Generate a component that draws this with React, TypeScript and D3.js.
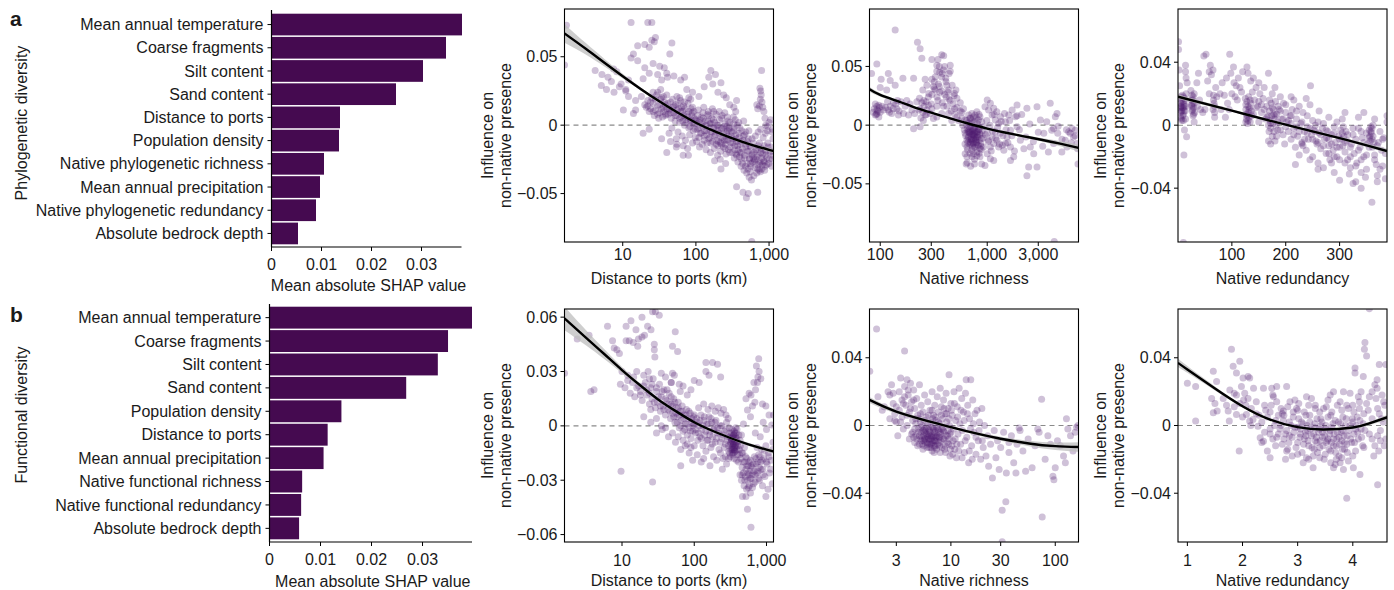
import React from "react";
import * as d3 from "d3";

// ---------- Bar data ----------
const phyloCats = [
  "Mean annual temperature", "Coarse fragments", "Silt content", "Sand content",
  "Distance to ports", "Population density", "Native phylogenetic richness",
  "Mean annual precipitation", "Native phylogenetic redundancy", "Absolute bedrock depth",
];
const phyloVals = [0.0381, 0.0349, 0.0303, 0.0249, 0.0137, 0.0135, 0.0105, 0.0097, 0.0089, 0.0053];
const funcCats = [
  "Mean annual temperature", "Coarse fragments", "Silt content", "Sand content",
  "Population density", "Distance to ports", "Mean annual precipitation",
  "Native functional richness", "Native functional redundancy", "Absolute bedrock depth",
];
const funcVals = [0.0397, 0.0350, 0.0330, 0.0268, 0.0141, 0.0114, 0.0106, 0.0064, 0.0062, 0.0058];
const barTicks = [0, 0.01, 0.02, 0.03];
const barTickLabels = ["0", "0.01", "0.02", "0.03"];

// ---------- Scatter data ----------
type P = [number, number];
const a1Points: P[] = [
  [1.7,0.073],[1.6,0.044],[13,0.075],[22,0.075],[25,0.075],[25,0.062],[27,0.061],[28,0.064],[16,0.058],[20,0.059],[23,0.057],[47,0.060],[14,0.052],[13,0.049],[16,0.047],[44,0.052],[26,0.045],[20,0.042],[23,0.038],[32,0.043],[37,0.042],[40,0.038],[41,0.035],[50,0.036],[62,0.033],[70,0.035],[30,0.037],[34,0.033],[19,0.034],[4.2,0.040],[5.2,0.037],[6.3,0.035],[7.5,0.041],[8.3,0.039],[7,0.032],[5.1,0.029],[6,0.026],[7.6,0.024],[9,0.028],[11,0.026],[12,0.021],[10.2,0.011],[15,0.018],[18,0.021],[15,0.011],[14,0.0085],[9.5,0.030],[12,0.033],[11,0.025],
  [790,0.040],[750,0.027],[770,0.025],[780,0.022],[760,0.019],[800,0.017],[740,0.014],[820,0.013],[700,0.012],[680,0.015],[850,0.010],[880,0.005],[900,0.0],[950,-0.004],[1000,0.002],[1100,-0.005],[150,0.035],[170,0.030],[185,0.037],[160,0.040],[130,0.028],[220,0.031],[200,0.024],[240,0.022],[260,0.020],[290,0.015],[330,0.013],[350,0.010],[360,0.018],[110,0.021],[90,0.024],[80,0.020],[75,0.026],
  [20,0.015],[22,0.018],[24,0.012],[26,0.016],[28,0.011],[30,0.014],[32,0.009],[34,0.012],[36,0.010],[38,0.015],[25,0.020],[29,0.022],[33,0.019],[37,0.017],[39,0.008],[27,0.007],[31,0.005],[35,0.006],[23,0.010],[40,0.012],[21,0.013],[30,0.024],[36,0.021],
  [42,0.008],[44,0.011],[46,0.005],[48,0.013],[50,0.009],[52,0.003],[55,0.007],[58,0.012],[60,0.002],[63,0.006],[66,0.010],[70,0.000],[73,0.004],[76,0.008],[80,-0.002],[84,0.003],[88,0.007],[92,-0.004],[96,0.001],[45,0.017],[53,0.015],[62,0.018],[68,0.014],[78,0.016],[86,0.012],[94,0.010],[47,-0.002],[57,-0.005],[65,-0.008],[72,-0.011],[82,-0.007],[90,-0.013],[43,-0.006],[54,-0.010],[98,-0.009],[60,0.020],[85,0.019],[67,-0.015],[77,-0.017],[55,-0.014],
  [100,0.004],[105,-0.003],[110,0.002],[115,-0.006],[120,0.006],[125,-0.001],[130,-0.008],[135,0.003],[140,-0.004],[145,0.008],[150,-0.010],[155,0.001],[160,-0.005],[165,0.005],[170,-0.012],[175,-0.002],[180,0.002],[185,-0.007],[190,-0.014],[195,0.000],[200,-0.004],[210,0.004],[220,-0.009],[230,-0.002],[240,-0.006],[250,0.001],[260,-0.011],[270,-0.004],[280,-0.008],[290,0.002],[300,-0.013],[108,0.011],[128,0.013],[148,0.010],[168,0.012],[188,0.008],[208,0.010],[228,0.007],[248,0.009],[268,0.006],[112,-0.016],[138,-0.018],[158,-0.020],[178,-0.017],[198,-0.022],[218,-0.019],[238,-0.016],[258,-0.021],[278,-0.018],[102,-0.012],[122,-0.014],[142,-0.013],[205,-0.012],[225,-0.014],[245,-0.011],[265,-0.001],[285,-0.003],[215,-0.025],[255,-0.028],[180,-0.026],
  [310,-0.005],[320,-0.010],[330,-0.002],[340,-0.015],[350,-0.007],[360,-0.012],[370,0.000],[380,-0.018],[390,-0.009],[400,-0.014],[420,-0.020],[440,-0.011],[460,-0.024],[480,-0.016],[500,-0.028],[520,-0.019],[540,-0.025],[560,-0.030],[580,-0.022],[600,-0.027],[315,-0.020],[335,-0.024],[355,-0.021],[375,-0.027],[395,-0.023],[415,-0.030],[435,-0.028],[455,-0.033],[475,-0.030],[495,-0.035],[515,-0.032],[535,-0.038],[555,-0.034],[345,0.004],[385,0.002],[425,-0.004],[465,-0.007],[505,-0.012],[545,-0.015],[585,-0.010],[325,0.006],[450,0.003],[530,-0.004],
  [620,-0.020],[640,-0.031],[660,-0.025],[680,-0.018],[700,-0.029],[720,-0.022],[740,-0.013],[760,-0.027],[780,-0.017],[800,-0.032],[820,-0.021],[840,-0.026],[860,-0.015],[880,-0.030],[900,-0.019],[930,-0.024],[960,-0.013],[990,-0.028],[1020,-0.020],[1060,-0.016],[1100,-0.025],[1130,-0.010],[650,-0.008],[710,-0.005],[770,-0.003],[830,-0.009],[890,-0.006],[950,-0.001],[1050,0.004],[1120,-0.003],[680,-0.035],[620,-0.037],[730,-0.033],
  [220,-0.032],[360,-0.045],[440,-0.049],[520,-0.050],[490,-0.053],[575,-0.040],[700,-0.049],[580,-0.085],[19,-0.006],[23,-0.003],[34,-0.010],[54,-0.016],[67,-0.022],[79,-0.022],[40,-0.020],[45,-0.012],
  [22,0.014],[24,0.017],[26,0.010],[28,0.019],[30,0.008],[32,0.015],[34,0.020],[36,0.013],[38,0.007],[41,0.016],[43,0.012],[45,0.009],[48,0.019],[50,0.014],[52,0.007],[55,0.011],[57,0.016],[60,0.005],[62,0.010],[64,0.013],[66,0.003],[68,0.007],[71,0.012],[74,0.002],[77,0.006],[80,0.010],[83,-0.001],[86,0.004],[89,0.009],[92,0.001],[95,0.005],[98,-0.003],[102,0.003],[106,0.007],[110,-0.002],[114,0.004],[118,-0.006],[122,0.001],[126,0.005],[131,-0.004],[136,0.000],[141,-0.007],[146,0.003],[151,-0.002],[156,-0.009],[161,0.001],[167,-0.005],[173,0.004],[179,-0.008],[186,-0.002],[193,-0.011],[200,0.000],[208,-0.006],[216,-0.013],[224,-0.003],[233,-0.009],[242,-0.001],[252,-0.014],[262,-0.006],[272,-0.011],[283,-0.002],[294,-0.016],[305,-0.008],[318,-0.013],[330,-0.004],[343,-0.018],[356,-0.010],[370,-0.015],[385,-0.006],[400,-0.020],[415,-0.012],[430,-0.017],[447,-0.008],[465,-0.022],[483,-0.014],[502,-0.019],[522,-0.010],[542,-0.024],[563,-0.016],[585,-0.021],[608,-0.013],[632,-0.026],[657,-0.018],[683,-0.023],[710,-0.015],[738,-0.028],[767,-0.020],[797,-0.024],[828,-0.018],[860,-0.027],[895,-0.022],[930,-0.029],[968,-0.016],[1005,-0.025],[1045,-0.019],[1085,-0.030],[1130,-0.022],[560,-0.028],[620,-0.025],[700,-0.032],[760,-0.034],[810,-0.029],[870,-0.033],[420,-0.025],[360,-0.022],[290,-0.020],[250,-0.017],[200,-0.015],[160,-0.013],[130,-0.011],[110,-0.009],[125,0.009],[150,0.007],[175,0.010],[225,0.005],[275,0.003],[330,0.001],[400,-0.002],[480,-0.005],[90,0.013],[70,0.017],[55,0.021],[40,0.022],[33,0.026],[26,0.024],
];
const a2Points: P[] = [
  [83,0.044],[93,0.052],[102,0.039],[100,0.032],[115,0.030],[119,0.044],[124,0.038],[138,0.034],[138,0.081],[163,0.040],[205,0.040],[184,0.0086],[205,-0.003],[93,0.016],[93,0.013],[93,0.010],[97,0.017],[90,0.0086],[88,0.014],[100,0.011],[97,0.007],[104,0.016],[107,0.013],[117,0.020],[119,0.013],[124,0.016],[128,0.010],[133,0.019],[143,0.014],[148,0.0086],[156,0.020],[171,0.016],[177,0.021],[198,0.013],[145,0.021],
  [236,0.014],[245,0.019],[250,0.011],[258,0.016],[263,0.0086],[268,0.020],[273,0.013],[282,0.017],[253,0.004],[236,-0.0014],[293,0.010],[304,0.014],[314,0.0057],[233,0.023],[282,0.024],[250,0.030],
  [223,0.0706],[236,0.065],[245,0.057],[304,0.056],[346,0.056],[376,0.060],[392,0.059],[338,0.051],[357,0.050],[338,0.046],[390,0.047],[451,0.051],[451,0.046],[327,0.041],[376,0.041],[304,0.039],[263,0.039],[273,0.034],[314,0.033],[357,0.033],[419,0.034],[327,0.030],[376,0.029],[435,0.030],[495,0.027],[414,0.024],[451,0.021],[521,0.023],[560,0.019],[346,0.021],[304,0.026],[390,0.016],[495,0.014],[580,0.011],[338,0.016],[435,0.010],[521,0.007],[376,0.010],[338,0.007],[466,0.004],[412,0.037],[320,0.037],
  [622,0.0043],[646,0],[670,-0.0043],[694,-0.007],[718,0.0014],[743,-0.0029],[770,-0.0057],[800,-0.010],[826,-0.0014],[855,-0.007],[888,-0.0114],[670,-0.010],[694,-0.0143],[718,-0.0129],[743,-0.0157],[770,-0.0186],[800,-0.0143],[826,-0.0171],[855,-0.020],[646,-0.0129],[622,-0.007],[646,-0.0186],[622,-0.0243],[646,-0.027],[636,-0.033],[718,-0.0214],[743,-0.0243],[800,-0.0229],[855,-0.027],[888,-0.033],[923,-0.0186],[770,0.0086],[718,0.010],[694,0.0057],[800,0.0114],[855,0.0071],[888,0.0029],[930,-0.0014],[670,0.0086],[826,0.0043],[730,-0.0077],[682,-0.0014],[785,-0.0123],[840,-0.0037],[706,-0.010],[755,-0.0066],[812,-0.0057],[658,-0.0057],[870,-0.0157],
  [700,-0.005],[760,-0.009],[690,-0.012],[735,-0.004],[780,-0.011],[720,-0.008],[765,-0.002],[705,-0.016],[750,-0.012],[680,-0.006],[810,-0.008],[725,-0.018],[790,-0.015],[660,-0.015],[745,-0.009],
  [953,0.0157],[1000,0.0214],[1030,0.0129],[1070,0.0186],[1110,0.0086],[1150,0.0143],[1190,0.0043],[1230,0.0114],[1280,0.0014],[1330,0.0071],[1000,-0.007],[1030,-0.0129],[1070,-0.0186],[1110,-0.010],[1150,-0.0157],[1190,-0.0057],[1230,-0.0129],[1280,-0.0186],[1330,-0.007],[1380,-0.0171],[1430,-0.0214],[1480,-0.0157],[1530,-0.010],[1650,-0.030],[1770,-0.027],[1590,0.0086],[1710,0.0129],[1900,0.0171],[1480,0.0029],[1840,0.0071],[1650,-0.0186],[1000,-0.0243],[1150,-0.030],[953,-0.0343],[1070,-0.0286],
  [2040,-0.0129],[2200,-0.020],[2350,0.0143],[2530,-0.0186],[2720,-0.0243],[2350,-0.043],[2440,-0.0357],[2920,-0.0357],[2920,0.0157],[3140,0.0043],[3380,-0.007],[3600,0.0029],[3880,0.0186],[3730,-0.0229],[4170,-0.0029],[4330,0.0071],[4490,0.010],[4560,-0.007],[4170,-0.0157],[4980,-0.0229],[5360,-0.0129],[5560,-0.0186],[5970,-0.007],[6200,-0.0029],[6400,-0.010],[6650,-0.0043],[6900,-0.0157],[7050,-0.033],[5770,-0.0057],[4230,-0.099],[4010,-0.0043],[1650,-0.0043],[1900,-0.0014],
  [610,-0.004],[630,-0.009],[650,-0.003],[660,-0.011],[675,-0.006],[685,-0.016],[700,-0.001],[710,-0.012],[725,-0.005],[735,-0.015],[748,-0.008],[758,-0.019],[770,-0.003],[782,-0.013],[795,-0.006],[805,-0.017],[818,-0.010],[830,-0.004],[845,-0.013],[860,-0.008],[875,-0.018],[895,-0.005],[915,-0.011],[640,0.004],[665,0.002],[690,0.006],[715,0.004],[740,0.007],[765,0.003],[790,0.006],[815,0.001],[840,0.009],[620,-0.016],[655,-0.021],[690,-0.024],[720,-0.027],[760,-0.029],[800,-0.026],[840,-0.024],[880,-0.021],[650,-0.032],[700,-0.035],[760,-0.033],
  [560,0.012],[580,0.006],[600,0.014],[590,0.000],[540,0.004],[520,0.015],[500,0.009],[480,0.018],[460,0.012],[440,0.022],[420,0.016],[400,0.026],[380,0.019],[360,0.028],[340,0.024],[320,0.031],[300,0.018],[285,0.027],[270,0.009],[255,0.021],[240,0.006],[230,0.013],[350,0.035],[380,0.044],[410,0.040],[430,0.028],[470,0.034],[490,0.025],[510,0.030],[440,0.044],[400,0.050],[360,0.045],
  [960,-0.008],[990,0.004],[1020,-0.014],[1060,0.000],[1090,-0.022],[1120,-0.005],[1160,0.009],[1200,-0.011],[1250,-0.002],[1300,-0.016],[1350,0.003],[1400,-0.009],[1450,0.010],[1500,-0.004],[1560,-0.015],[1620,0.004],[1700,-0.009],[1800,-0.022],[1900,0.008],[2000,-0.004],[2100,0.009],[2300,-0.010],[2500,0.001],[2700,-0.014],[3000,-0.006],[3300,-0.018],[5000,-0.012],[5500,-0.004],[6100,-0.015],[6600,-0.009],[7000,-0.020],[4600,-0.001],
  [90,0.018],[95,0.012],[92,0.009],[98,0.015],[86,0.011],[112,0.015],[122,0.011],[132,0.014],[140,0.018],[150,0.012],[165,0.010],[190,0.018],[210,0.010],[220,0.020],
];
const a3Points: P[] = [
  [5,0.018],[5,0.014],[5,0.011],[5,0.008],[5,0.005],[6,0.016],[6,0.012],[7,0.009],[7,0.003],[8,0.019],[10,0.015],[10,0.011],[10,0.007],[11,0.013],[12,0.017],[13,0.009],[14,0.004],[15,0.012],[15,0.020],[16,-0.0074],[11,-0.019],[10,0.003],[12,-0.003],[1,0.053],[1,0.048],[2,0.035],[3,0.025],[14,0.038],[14,0.034],[15,0.030],[17,0.027],
  [25,0.016],[26,0.012],[26,0.009],[27,0.014],[28,0.006],[28,0.018],[29,0.011],[30,0.020],[24,0.022],[31,0.008],[35,0.027],[38,0.033],[36,0.012],[40,0.016],[42,0.010],[30,0.002],
  [48,0.044],[52,0.045],[55,0.028],[58,0.034],[60,0.038],[62,0.032],[65,0.035],[66,0.016],[68,0.012],[68,0.008],[70,0.024],[72,0.018],[78,0.020],[82,0.027],[86,0.019],[90,0.030],[92,0.014],[95,0.010],[96,0.045],[98,0.033],[100,0.020],[103,0.037],[104,0.027],[106,0.018],[108,0.025],[110,0.016],[112,0.030],[115,0.024],[118,0.021],[120,0.034],[50,0.010],[80,0.010],[88,0.005],[58,0.020],[46,0.008],
  [125,0.017],[126,0.013],[126,0.010],[127,0.007],[127,0.004],[128,0.015],[129,0.001],[130,0.012],[130,0.008],[131,0.018],[132,0.005],[133,0.011],[134,0.002],[135,0.014],[136,0.009],[137,0.006],[128,0.037],[130,0.033],[135,0.028],[140,0.030],[138,0.021],[142,0.016],[145,0.024],[148,0.012],[150,0.027],[152,0.020],[155,0.008],[158,0.017],[160,0.024],[162,0.004],[150,0.002],
  [165,0.012],[167,0.006],[168,0.000],[169,-0.004],[170,0.009],[171,0.003],[172,-0.002],[173,0.014],[174,0.006],[175,-0.007],[176,0.001],[177,0.010],[178,-0.004],[179,0.004],[180,-0.010],[181,0.015],[182,0.000],[183,0.007],[185,-0.003],[186,0.012],[168,0.033],[175,0.020],[180,0.024],[190,0.018],[188,0.010],[192,0.004],[195,-0.006],[196,0.014],[198,-0.012],[200,0.008],[168,-0.010],[172,-0.012],
  [202,0.002],[205,-0.004],[208,0.006],[210,-0.009],[212,0.010],[215,-0.002],[218,-0.014],[220,0.004],[222,-0.007],[225,-0.019],[228,0.001],[230,-0.011],[232,0.008],[235,-0.004],[238,-0.016],[240,-0.001],[242,-0.009],[245,0.013],[248,-0.006],[250,-0.020],[252,-0.003],[255,0.000],[258,-0.012],[260,-0.024],[262,-0.005],[265,-0.015],[268,-0.002],[270,-0.027],[272,-0.009],[275,-0.018],[278,-0.004],[280,-0.013],[282,-0.022],[285,-0.006],[288,-0.016],[290,-0.001],[292,-0.011],[295,-0.020],[298,-0.007],[300,-0.014],[246,0.025],[215,0.016],[225,0.012],[238,0.017],[262,0.009],[280,0.005],[295,0.002],[218,-0.025],[245,-0.022],[260,-0.028],[285,-0.024],[210,0.018],[232,-0.013],[256,-0.010],[276,-0.008],
  [302,-0.003],[304,-0.009],[305,-0.005],[306,-0.013],[307,-0.001],[308,-0.007],[310,-0.017],[312,-0.004],[314,-0.010],[315,-0.022],[318,-0.031],[320,-0.027],[322,-0.012],[325,-0.006],[327,-0.018],[330,-0.036],[332,-0.024],[335,-0.002],[338,-0.014],[340,-0.030],[342,-0.008],[345,-0.020],[348,-0.033],[350,-0.005],[352,-0.012],[355,-0.003],[356,-0.007],[357,-0.010],[358,-0.001],[359,-0.005],[360,-0.009],[361,-0.014],[362,0.000],[360,-0.049],[365,-0.019],[368,-0.025],[370,-0.032],[372,-0.011],[375,-0.004],[378,-0.016],[380,-0.026],[382,-0.008],[385,-0.034],[388,0.006],[388,0.002],[10,-0.0745],[310,0.008],[305,0.004],[335,0.005],[345,0.008],[365,0.004],[290,-0.030],[300,-0.035],[325,-0.037],[340,-0.040],
  [180,0.006],[185,0.002],[190,-0.003],[195,0.004],[200,-0.001],[205,0.003],[210,0.001],[215,-0.006],[220,-0.001],[225,-0.004],[230,0.002],[235,-0.009],[240,-0.005],[245,-0.002],[250,-0.009],[255,-0.004],[260,-0.011],[265,-0.006],[270,-0.013],[275,-0.003],[280,-0.009],[285,-0.012],[290,-0.005],[295,-0.014],[300,-0.009],[310,-0.011],[315,-0.006],[320,-0.014],[325,-0.002],[330,-0.009],[335,-0.016],[340,-0.004],[345,-0.011],[350,-0.019],[355,-0.008],[358,-0.004],[360,-0.002],[362,-0.007],[364,-0.011],[355,-0.014],[365,-0.022],[370,-0.013],[375,-0.028],[380,-0.009],[385,-0.018],[130,0.003],[132,0.010],[134,0.016],[128,0.006],[126,0.002],[140,0.007],[145,0.011],[150,0.015],[155,0.013],[160,0.010],[165,0.005],[170,0.016],[175,0.011],[172,0.001],[178,0.007],[183,-0.007],[190,0.009],[200,0.013],[210,0.006],[220,0.009],[230,-0.012],[240,0.006],[250,0.003],[260,0.002],[270,0.001],[280,-0.018],[290,-0.020],[300,-0.022],[310,-0.024],[320,-0.020],[330,-0.026],[340,-0.022],[350,-0.028],[370,-0.036],[5,0.012],[6,0.009],[7,0.015],[8,0.011],[9,0.006],[10,0.018],[11,0.009],[12,0.012],[13,0.016],[6,0.004],[25,0.013],[27,0.010],[28,0.016],[29,0.007],[26,0.019],[30,0.014],[65,0.010],[67,0.014],[68,0.005],[66,0.019],
];
const b1Points: P[] = [
  [1.6,0.029],[2.4,0.048],[3.5,0.050],[3.7,0.019],[4.1,0.020],[6.3,0.055],[7.4,0.047],[7.8,0.043],[8.5,0.042],[9.2,0.040],[11.4,0.047],[12.6,0.047],[14.3,0.046],[16.9,0.048],[18.9,0.049],[20.5,0.050],[26.5,0.063],[29,0.063],[32.8,0.061],[13.3,0.058],[18.9,0.060],[25.2,0.053],[22.6,0.055],[54.6,0.052],[50,0.044],[28,0.045],[28,0.042],[28.5,0.038],[11.4,0.055],[15.6,0.053],[16.5,0.044],[58.8,0.041],
  [10,0.030],[9.5,0.023],[11,0.021],[12,0.025],[13,0.018],[14.5,0.027],[16,0.030],[15,0.016],[17,0.022],[18,0.019],[20,0.028],[19,0.014],[21,0.024],[22,0.017],[23,0.030],[24,0.012],[25,0.021],[26,0.015],[27,0.026],[29,0.010],[30,0.019],[31,0.013],[33,0.023],[34,0.008],[35,0.016],[37,0.011],[38,0.020],[40,0.006],[42,0.014],[43,0.009],[45,0.018],[47,0.004],[48,0.012],[50,0.007],[52,0.015],[54,0.002],[56,0.010],[58,0.005],[60,0.013],[62,-0.001],[64,0.008],[66,0.003],[68,0.011],[70,-0.003],[72,0.006],[75,0.001],[78,0.009],[80,-0.005],[82,0.004],[85,-0.001],[88,0.007],[90,-0.007],[92,0.002],[95,-0.003],[98,0.005],[20,0.005],[25,0.002],[30,-0.004],[36,-0.002],[44,-0.006],[55,-0.009],[65,-0.013],[75,-0.011],[85,-0.015],[95,-0.019],[40,0.027],[35,0.029],[48,0.024],[53,0.028],[70,0.022],[64,0.019],[80,0.017],[90,0.020],[24,0.026],
  [100,0.001],[104,-0.004],[108,0.004],[112,-0.008],[116,0.000],[120,-0.006],[124,0.006],[128,-0.002],[132,-0.011],[136,0.003],[140,-0.005],[145,-0.014],[150,0.001],[155,-0.008],[160,0.005],[165,-0.003],[170,-0.012],[175,0.002],[180,-0.006],[185,-0.017],[190,-0.001],[195,-0.009],[200,0.003],[210,-0.004],[220,-0.013],[230,0.000],[240,-0.007],[250,-0.018],[260,-0.003],[270,-0.010],[280,0.002],[290,-0.006],[300,-0.014],[310,-0.004],[320,-0.009],[330,-0.012],[340,-0.006],[350,-0.015],[360,-0.008],[370,-0.011],[380,-0.004],[390,-0.013],[400,-0.009],[305,-0.001],[315,-0.017],[325,-0.007],[335,-0.002],[345,-0.010],[355,-0.005],[365,-0.014],[375,-0.001],[385,-0.007],[395,-0.016],[115,0.010],[135,0.012],[155,0.009],[175,0.011],[195,0.008],[215,0.010],[235,0.007],[255,0.009],[275,0.006],[295,0.004],[145,0.035],[179,0.035],[210,0.034],[145,0.030],[160,0.028],[232,0.027],[100,0.025],[117,0.024],[50,0.029],[48,0.024],[62,0.023],[125,-0.020],[165,-0.022],[205,-0.019],[245,-0.024],[280,-0.021],[110,-0.016],[135,-0.018],[230,-0.015],[270,-0.017],
  [330,-0.008],[340,-0.011],[350,-0.005],[360,-0.013],[370,-0.007],[345,-0.009],[355,-0.012],[365,-0.004],[335,-0.015],[375,-0.010],
  [410,-0.020],[420,-0.013],[430,-0.027],[440,-0.018],[450,-0.030],[460,-0.023],[470,-0.015],[480,-0.026],[490,-0.033],[500,-0.020],[510,-0.028],[520,-0.024],[530,-0.035],[540,-0.018],[550,-0.030],[560,-0.022],[570,-0.027],[580,-0.033],[590,-0.025],[600,-0.019],[620,-0.029],[640,-0.023],[660,-0.032],[680,-0.017],[700,-0.027],[720,-0.021],[740,-0.012],[760,-0.025],[780,-0.016],[800,-0.030],[830,-0.020],[860,-0.013],[890,-0.024],[920,-0.018],[950,-0.028],[980,-0.011],[1020,-0.021],[1060,-0.015],[1100,-0.026],[1150,-0.019],[1200,-0.032],[1230,-0.009],[465,-0.039],[520,-0.039],[545,-0.046],[610,-0.056],[880,-0.033],[980,-0.039],[1050,-0.035],[9.7,-0.025],[26.5,-0.031],[65,-0.022],
  [780,0.037],[725,0.033],[790,0.030],[835,0.026],[670,0.024],[705,0.020],[610,0.017],[640,0.011],[545,0.0087],[880,0.012],[980,0.011],[1085,0.006],[1180,0.0005],[520,0.015],[575,0.018],[760,0.027],[750,0.024],[690,0.013],[600,0.005],[900,0.002],[1000,-0.002],[1250,0.006],[450,-0.005],[480,0.001],[430,-0.008],[700,-0.004],[820,-0.006],
  [20,0.022],[22,0.020],[24,0.018],[26,0.023],[28,0.013],[30,0.021],[32,0.016],[34,0.011],[36,0.019],[38,0.009],[40,0.015],[42,0.020],[44,0.012],[46,0.008],[48,0.016],[50,0.011],[52,0.005],[54,0.013],[56,0.007],[58,0.002],[60,0.010],[62,0.006],[65,0.000],[68,0.008],[71,0.004],[74,-0.002],[77,0.006],[80,0.001],[84,0.008],[88,-0.003],[92,0.004],[96,0.000],[100,0.006],[105,-0.002],[110,0.002],[115,-0.004],[120,0.003],[126,-0.007],[132,0.000],[138,0.005],[144,-0.003],[150,-0.008],[157,0.001],[164,-0.005],[171,0.004],[178,-0.010],[186,-0.002],[194,0.002],[202,-0.007],[211,-0.001],[220,-0.004],[230,-0.009],[240,0.000],[250,-0.005],[261,-0.012],[273,-0.002],[285,-0.008],[298,-0.011],[310,-0.006],[318,-0.010],[326,-0.004],[334,-0.013],[342,-0.007],[350,-0.010],[358,-0.003],[366,-0.012],[374,-0.006],[382,-0.009],[390,-0.002],[398,-0.011],[328,-0.008],[346,-0.013],[362,-0.009],[340,-0.016],[356,-0.018],[320,-0.013],[310,-0.015],[300,-0.018],[370,-0.014],[385,-0.019],[415,-0.005],[425,-0.016],[435,-0.011],[455,-0.015],[475,-0.020],[495,-0.012],[515,-0.017],[535,-0.022],[555,-0.026],[575,-0.020],[595,-0.029],[615,-0.022],[635,-0.027],[655,-0.021],[675,-0.025],[695,-0.031],[715,-0.018],[735,-0.026],[755,-0.020],[775,-0.029],[795,-0.023],[815,-0.017],[840,-0.024],[870,-0.019],[900,-0.027],[940,-0.014],[1000,-0.020],[1080,-0.017],[1140,-0.024],[1220,-0.013],[560,-0.034],[600,-0.037],[640,-0.034],[500,-0.030],[460,-0.027],[30,0.004],[35,0.000],[40,-0.001],[50,-0.004],[60,-0.006],[70,-0.008],[80,-0.010],[90,-0.012],[100,-0.011],[25,0.009],[18,0.017],[16,0.021],[14,0.024],[12,0.028],
];
const b2Points: P[] = [
  [1.67,0.032],[1.94,0.057],[3.6,0.044],[2.0,0.017],[2.2,0.009],[2.3,0.011],[2.5,0.020],[2.6,0.018],[2.7,0.024],[2.8,0.013],[2.9,0.007],[2.9,0.003],[3.0,0.011],[3.0,0.002],[3.1,-0.006],[3.2,0.020],[3.3,0.028],[3.4,0.015],[3.4,0.005],[3.5,-0.002],[3.6,0.023],[3.7,0.012],[3.8,0.027],[3.8,0.000],[3.9,0.018],[4.0,-0.008],[4.0,0.008],[4.1,0.025],[4.2,0.014],[4.3,0.003],[4.3,-0.004],[4.4,0.021],[4.5,0.010],[4.5,-0.010],[4.6,0.001],[4.6,-0.006],[4.7,0.016],[4.8,0.006],[4.8,-0.012],[4.9,-0.002],[5.0,0.024],[5.0,0.004],[5.1,-0.008],[5.2,0.012],[5.2,-0.004],[5.3,0.000],[5.4,-0.014],[5.4,0.008],[5.5,-0.006],[5.6,0.018],[5.6,-0.002],[5.7,-0.010],[5.8,0.005],[5.8,-0.005],[5.9,-0.013],[6.0,0.001],[6.0,0.014],[6.1,-0.008],[6.2,-0.003],[6.3,0.009],[6.3,-0.011],[6.4,0.002],[6.5,-0.006],[6.6,0.020],[6.6,-0.015],[6.7,-0.001],[6.8,0.006],[6.9,-0.009],[7.0,0.012],[7.0,-0.004],[7.1,-0.012],[7.2,0.003],[7.3,-0.007],[7.4,0.017],[7.5,-0.002],[7.6,0.008],[7.7,-0.010],[7.8,0.001],[7.9,0.022],[8.0,-0.005],[8.1,0.011],[8.2,-0.013],[8.3,0.004],[8.4,-0.001],[8.5,0.015],[8.6,-0.008],[8.8,0.007],[8.9,-0.016],[9.0,0.019],[9.1,0.002],[9.3,-0.006],[9.4,0.010],[9.5,-0.011],[9.6,0.030],[9.7,0.000],[9.8,-0.018],
  [10,0.013],[10,-0.004],[10.3,0.006],[10.5,-0.009],[10.7,0.020],[10.9,-0.014],[11.1,0.003],[11.3,-0.019],[11.5,0.011],[11.7,-0.005],[12.0,0.022],[12.2,0.001],[12.4,-0.011],[12.7,0.016],[12.9,-0.003],[13.2,0.008],[13.5,-0.016],[13.8,0.019],[14.0,0.027],[14.2,-0.007],[14.5,0.012],[14.8,-0.022],[15.1,0.004],[15.5,0.027],[15.8,-0.012],[16.2,0.015],[16.6,-0.004],[17.0,0.007],[17.4,-0.017],[17.8,0.009],[18.3,-0.009],[18.8,0.002],[19.3,-0.020],[19.8,0.010],[20.4,-0.013],[21,0.000],[21.7,-0.018],[22.5,-0.006],[23,-0.024],[24,-0.011],[25,-0.031],[26,-0.003],[27,-0.019],[28,-0.009],[29,-0.026],[31,-0.050],[33.6,-0.045],[31,-0.0686],[30,-0.013],[32,-0.004],[34,-0.028],[36,-0.016],[38,-0.006],[40,-0.022],[43,-0.011],[46,-0.003],[49,-0.015],[52,-0.027],[55,-0.008],[60,-0.025],[64,-0.012],[68,-0.002],[74,0.0155],[75,-0.054],[80,-0.020],[85,-0.006],[90,-0.011],[97,-0.032],[100,-0.025],[105,-0.009],[112,-0.012],[120,-0.018],[125,-0.022],[128,0.004],[132,-0.002],[140,-0.006],[148,-0.015],[155,-0.004],[160,-0.001],[165,0.000],[45,-0.0015],[42,-0.028],[36,-0.010],[70,-0.004],[95,-0.030],
  [5.5,-0.009],[6,-0.007],[6.5,-0.011],[7,-0.009],[5,-0.006],[6.2,-0.013],[5.7,-0.003],[6.8,-0.005],[7.3,-0.014],[4.4,-0.007],[5.9,-0.010],[6.4,-0.008],[6.9,-0.012],[5.3,-0.011],[7.8,-0.007],[8.5,-0.003],[5.1,0.002],[6.7,0.004],[5.6,-0.008],[6.1,-0.005],[6.6,-0.009],[5.2,-0.009],[6.3,-0.006],[7.1,-0.007],
  [4.2,-0.005],[4.5,-0.002],[4.7,-0.008],[4.9,-0.004],[5.0,-0.011],[5.2,-0.001],[5.3,-0.007],[5.4,-0.003],[5.5,-0.012],[5.6,-0.004],[5.7,-0.008],[5.8,-0.001],[5.9,-0.006],[6.0,-0.011],[6.1,-0.002],[6.2,-0.009],[6.3,-0.004],[6.4,-0.013],[6.5,-0.001],[6.6,-0.007],[6.7,-0.010],[6.8,-0.002],[6.9,-0.006],[7.0,-0.013],[7.1,-0.003],[7.2,-0.009],[7.3,-0.001],[7.4,-0.006],[7.5,-0.011],[7.6,-0.003],[7.7,-0.007],[7.8,-0.012],[7.9,-0.004],[8.0,-0.009],[8.2,-0.002],[8.4,-0.008],[8.6,-0.004],[8.8,-0.012],[9.0,-0.006],[9.2,-0.010],[9.4,-0.003],[9.6,-0.008],[9.8,-0.005],[10.2,-0.012],[10.6,-0.002],[11,-0.008],[11.4,-0.011],[4.6,0.004],[5.1,0.007],[5.6,0.003],[6.1,0.006],[6.6,0.009],[7.1,0.005],[7.6,0.002],[8.1,0.006],[8.6,0.010],[9.1,0.007],[9.6,0.004],[10.1,0.009],[10.8,0.013],[11.6,0.005],[12.5,0.009],[13.4,0.003],[14.4,0.007],[15.4,-0.002],[16.4,0.001],[17.4,-0.007],[18.6,-0.003],[20,-0.009],[3.2,0.009],[3.5,0.013],[3.8,0.006],[4.1,0.010],[4.4,0.015],[3.3,0.002],[3.6,0.017],[2.6,0.004],[2.8,0.019],[3.9,0.021],[12.8,-0.019],[13.7,-0.009],[15,-0.015],[16,-0.020],[11.9,-0.015],[10.4,-0.017],[9.9,-0.014],[8.7,-0.014],[7.9,-0.016],[6.9,-0.016],
];
const b3Points: P[] = [
  [1.0,0.025],[1.15,0.023],[1.15,0.0026],[1.47,0.032],[1.53,0.026],[1.44,0.016],[1.5,0.013],[1.47,0.0075],[1.54,0.0085],[1.8,0.045],[1.83,0.035],[1.89,0.031],[1.95,0.038],[1.98,0.023],[1.77,0.021],[1.71,0.012],[1.74,0.0085],[1.76,0.0026],[1.89,0.018],[1.94,-0.015],[1.85,0.011],[1.89,0.0065],[2.01,0.028],[2.04,0.019],[2.1,0.029],[2.13,0.028],[2.02,0.015],[2.06,0.012],[2.07,0.0065],[2.13,0.0026],[2.19,0.0035],[2.16,0.010],[2.25,0.014],[2.28,-0.0004],[2.32,-0.0073],[2.38,-0.0093],[2.38,0.022],[2.53,0.022],[2.56,0.017],[2.5,-0.019],[2.62,0.023],[2.8,0.023],[2.78,-0.020],
  [4.3,0.069],[4.22,0.049],[4.21,0.045],[4.25,0.041],[4.48,0.036],[4.6,0.036],[4.04,0.034],[4.04,0.031],[4.19,0.029],[4.44,0.027],[4.44,0.022],[4.35,0.020],[4.53,0.018],[4.56,0.014],[4.5,-0.009],[4.47,-0.015],[4.45,-0.035],[3.89,-0.043],[4.13,-0.029],[4.01,-0.025],[3.77,-0.022],[3.68,-0.023],[3.65,-0.025],[3.83,-0.026],[3.28,-0.025],[3.16,-0.019],[3.59,0.018],[3.65,0.020],[3.83,0.020],[3.77,0.014],[3.89,0.012],[3.16,0.017],[3.32,0.012],[3.47,0.010],[2.98,0.010],[2.86,0.014],[2.74,0.0085],
  [2.35,0.002],[2.4,-0.004],[2.45,0.005],[2.5,-0.002],[2.55,-0.008],[2.6,0.003],[2.65,-0.005],[2.7,0.000],[2.72,-0.011],[2.75,0.006],[2.8,-0.003],[2.82,-0.014],[2.85,0.002],[2.9,-0.007],[2.92,0.008],[2.95,-0.001],[3.0,-0.010],[3.02,0.004],[3.05,-0.005],[3.08,-0.016],[3.1,0.001],[3.12,-0.008],[3.15,0.006],[3.18,-0.003],[3.2,-0.012],[3.22,0.002],[3.25,-0.006],[3.28,-0.018],[3.3,-0.001],[3.32,-0.009],[3.35,0.004],[3.38,-0.004],[3.4,-0.013],[3.42,0.000],[3.45,-0.007],[3.48,-0.020],[3.5,-0.002],[3.52,-0.010],[3.55,0.005],[3.58,-0.005],[3.6,-0.015],[3.62,-0.001],[3.65,-0.008],[3.68,0.003],[3.7,-0.012],[3.72,-0.004],[3.75,-0.018],[3.78,0.001],[3.8,-0.009],[3.82,-0.003],[3.85,-0.014],[3.88,0.004],[3.9,-0.006],[3.92,-0.021],[3.95,0.000],[3.98,-0.010],[4.0,0.002],[4.02,-0.005],[4.05,-0.015],[4.08,0.005],[4.1,-0.008],[4.12,0.010],[4.15,-0.002],[4.18,-0.012],[4.2,0.007],
  [2.6,-0.012],[2.9,-0.018],[3.1,-0.022],[3.3,-0.014],[3.5,-0.017],[3.7,-0.020],[3.9,-0.016],[2.5,0.008],[2.7,0.010],[3.0,0.009],[3.2,0.012],[3.4,0.008],[3.6,0.006],[3.8,0.009],[4.0,0.012],[4.1,0.017],[3.95,0.019],[4.15,0.020],[3.55,0.015],[3.25,0.016],[2.95,0.015],[2.35,-0.010],[2.45,-0.015],[4.3,-0.005],[4.35,0.004],[4.4,-0.012],[4.45,0.010],[4.5,-0.003],[4.55,0.002],[4.6,-0.008],[4.25,0.013],[4.38,-0.018],[4.48,0.007],[4.58,0.012],[4.3,0.017],[4.4,0.024],[2.4,0.012],[2.55,0.018],[2.65,0.006],[2.85,-0.006],[3.15,-0.006],[3.45,-0.004],[3.75,-0.007],[4.05,-0.002],[3.35,-0.010],[3.65,-0.012],[2.75,-0.008],[3.05,-0.002],[3.55,-0.008],[3.85,-0.010],
  [2.5,-0.005],[2.58,0.000],[2.62,-0.007],[2.68,-0.002],[2.74,0.003],[2.78,-0.005],[2.84,-0.010],[2.88,0.000],[2.93,-0.004],[2.97,-0.013],[3.0,-0.001],[3.04,-0.007],[3.07,0.002],[3.11,-0.011],[3.14,-0.004],[3.17,0.000],[3.19,-0.009],[3.23,-0.002],[3.26,-0.013],[3.29,-0.005],[3.31,0.001],[3.34,-0.007],[3.36,-0.016],[3.39,-0.002],[3.41,-0.009],[3.44,0.002],[3.46,-0.012],[3.49,-0.006],[3.51,0.000],[3.54,-0.009],[3.57,-0.014],[3.59,-0.003],[3.61,-0.010],[3.64,0.001],[3.66,-0.005],[3.69,-0.016],[3.71,-0.008],[3.74,0.002],[3.76,-0.011],[3.79,-0.004],[3.81,-0.014],[3.84,-0.006],[3.87,0.000],[3.89,-0.011],[3.93,-0.003],[3.96,-0.008],[3.99,0.004],[4.03,-0.010],[4.06,0.000],[4.09,-0.004],[4.13,0.003],[4.16,-0.007],[4.19,0.001],[4.22,-0.003],[2.3,0.006],[2.42,0.009],[2.52,0.012],[2.62,0.014],[2.72,0.007],[2.82,0.011],[2.92,0.005],[3.02,0.013],[3.12,0.008],[3.22,0.006],[3.32,0.010],[3.42,0.004],[3.52,0.011],[3.62,0.008],[3.72,0.012],[3.82,0.005],[3.92,0.010],[4.02,0.008],[4.12,0.014],[3.0,-0.017],[3.2,-0.020],[3.4,-0.019],[3.6,-0.022],[3.8,-0.019],[4.0,-0.018],[2.8,-0.015],[4.2,-0.013],[4.45,-0.006],[4.52,0.004],[4.57,-0.012],[4.35,-0.008],[4.28,0.009],[4.42,0.016],[2.1,0.016],[2.2,0.022],[2.25,0.007],[1.95,0.013],[1.85,0.019],[1.65,0.016],[2.0,0.005],[2.15,0.000],
];

// ---------- Fitted curves (x, fit, half-width of band) ----------
const a1FitX = [1.6, 3.16, 5.62, 10, 17.8, 31.6, 56.2, 100, 178, 316, 562, 1000, 1150];
const a1FitY = [0.067, 0.0556, 0.0456, 0.0358, 0.0263, 0.0174, 0.0092, 0.0018, -0.0044, -0.0097, -0.0142, -0.0180, -0.0188];
const a1FitSe = [0.0068, 0.0042, 0.0028, 0.0017, 0.0011, 0.0008, 0.0007, 0.0006, 0.0006, 0.0007, 0.0009, 0.0014, 0.0016];
const a2FitX = [79.4, 100, 150, 200, 300, 450, 650, 1000, 1500, 2200, 3200, 4800, 7130];
const a2FitY = [0.0306, 0.0257, 0.020, 0.0158, 0.0106, 0.0057, 0.0016, -0.0029, -0.0065, -0.0095, -0.0124, -0.0158, -0.0194];
const a2FitSe = [0.002, 0.0015, 0.001, 0.0008, 0.0007, 0.0006, 0.0006, 0.0006, 0.0008, 0.0011, 0.0015, 0.0022, 0.003];
const a3FitX = [0, 100, 200, 300, 388];
const a3FitY = [0.0181, 0.0092, 0.0003, -0.0082, -0.0164];
const a3FitSe = [0.0015, 0.0007, 0.0006, 0.0008, 0.0014];
const b1FitX = [1.6, 3.16, 5.62, 10, 17.8, 31.6, 56.2, 100, 178, 316, 562, 1000, 1250];
const b1FitY = [0.0593, 0.0487, 0.0398, 0.0308, 0.0224, 0.0146, 0.0080, 0.0020, -0.0027, -0.0067, -0.0102, -0.0131, -0.0141];
const b1FitSe = [0.0065, 0.0042, 0.0028, 0.0017, 0.0011, 0.0008, 0.0006, 0.0006, 0.0006, 0.0007, 0.0009, 0.0012, 0.0013];
const b2FitX = [1.66, 3, 6.2, 10, 18.7, 30, 56, 100, 167];
const b2FitY = [0.0151, 0.0082, 0.0024, -0.001, -0.0051, -0.0078, -0.0106, -0.0122, -0.0127];
const b2FitSe = [0.0018, 0.0012, 0.0008, 0.0007, 0.0009, 0.0012, 0.0016, 0.0022, 0.0028];
const b3FitX = [0.83, 1, 1.5, 2, 2.5, 3, 3.47, 4, 4.3, 4.63];
const b3FitY = [0.037, 0.0331, 0.0219, 0.0114, 0.0035, -0.001, -0.0024, -0.0012, 0.0012, 0.0049];
const b3FitSe = [0.0025, 0.002, 0.0012, 0.0008, 0.0006, 0.0005, 0.0005, 0.0007, 0.001, 0.0015];

// ---------- Tick data ----------
const a1XTicks = [10, 100, 1000]; const a1XLabels = ["10", "100", "1,000"];
const a2XTicks = [100, 300, 1000, 3000]; const a2XLabels = ["100", "300", "1,000", "3,000"];
const a3XTicks = [100, 200, 300]; const a3XLabels = ["100", "200", "300"];
const b1XTicks = [10, 100, 1000]; const b1XLabels = ["10", "100", "1,000"];
const b2XTicks = [3, 10, 30, 100]; const b2XLabels = ["3", "10", "30", "100"];
const b3XTicks = [1, 2, 3, 4]; const b3XLabels = ["1", "2", "3", "4"];
const y05Ticks = [0.05, 0, -0.05]; const y05Labels = ["0.05", "0", "\u22120.05"];
const y04Ticks = [0.04, 0, -0.04]; const y04Labels = ["0.04", "0", "\u22120.04"];
const y06Ticks = [0.06, 0.03, 0, -0.03, -0.06]; const y06Labels = ["0.06", "0.03", "0", "\u22120.03", "\u22120.06"];

const FONT = "'Liberation Sans', Arial, Helvetica, sans-serif";
const FS = 16;
const BAR_COLOR = "#450a50";
const PT_COLOR = "#4f1a6e";

type BarProps = {
  cats: string[]; vals: number[]; letter: string; ylabel: string;
  x0: number; xMaxVal: number; xRight: number; bandTop: number; bandBottom: number;
  axisTop: number; axisY: number; tickY: number; titleY: number; labelCenterY: number; letterY: number;
};

function BarPanel(p: BarProps) {
  const x = d3.scaleLinear().domain([0, p.xMaxVal]).range([p.x0, p.xRight]);
  const y = d3.scaleBand<string>().domain(p.cats).range([p.bandTop, p.bandBottom]).paddingInner(0.065).paddingOuter(0.03);
  return (
    <g>
      <text x={10} y={p.letterY} fontSize={21} fontWeight="bold">{p.letter}</text>
      <text transform={`translate(27,${p.labelCenterY}) rotate(-90)`} textAnchor="middle" fontSize={FS}>{p.ylabel}</text>
      {p.cats.map((c, i) => (
        <g key={c}>
          <rect x={x(0)} y={y(c)!} width={x(p.vals[i]) - x(0)} height={y.bandwidth()} fill={BAR_COLOR} />
          <line x1={x(0) - 4} x2={x(0)} y1={y(c)! + y.bandwidth() / 2} y2={y(c)! + y.bandwidth() / 2} stroke="#000" strokeWidth={1} />
          <text x={x(0) - 8} y={y(c)! + y.bandwidth() / 2} dy="0.35em" textAnchor="end" fontSize={FS}>{c}</text>
        </g>
      ))}
      <line x1={x(0)} x2={x(0)} y1={p.axisTop} y2={p.axisY} stroke="#000" strokeWidth={1.2} />
      <line x1={x(0)} x2={p.xRight} y1={p.axisY} y2={p.axisY} stroke="#000" strokeWidth={1.2} />
      {barTicks.map((t, i) => (
        <g key={t}>
          <line x1={x(t)} x2={x(t)} y1={p.axisY} y2={p.axisY + 4} stroke="#000" strokeWidth={1} />
          <text x={x(t)} y={p.tickY} textAnchor="middle" fontSize={FS}>{barTickLabels[i]}</text>
        </g>
      ))}
      <text x={(x(0) + p.xRight) / 2 + 2} y={p.titleY} textAnchor="middle" fontSize={FS}>Mean absolute SHAP value</text>
    </g>
  );
}

type ScatterProps = {
  id: string; left: number; top: number; width: number; height: number;
  log: boolean; xDomain: [number, number]; yDomain: [number, number];
  xTicks: number[]; xLabels: string[]; yTicks: number[]; yLabels: string[];
  xTitle: string; points: P[]; fitX: number[]; fitY: number[]; fitSe: number[];
  tickY: number; titleY: number;
};

function Scatter(p: ScatterProps) {
  const x = (p.log ? d3.scaleLog() : d3.scaleLinear()).domain(p.xDomain).range([p.left, p.left + p.width]);
  const y = d3.scaleLinear().domain(p.yDomain).range([p.top + p.height, p.top]);
  const fit = p.fitX.map((v, i) => ({ x: v, y: p.fitY[i], se: p.fitSe[i] }));
  const line = d3.line<{ x: number; y: number }>().x(d => x(d.x)).y(d => y(d.y)).curve(d3.curveNatural);
  const area = d3.area<{ x: number; y: number; se: number }>()
    .x(d => x(d.x)).y0(d => y(d.y - d.se)).y1(d => y(d.y + d.se)).curve(d3.curveNatural);
  const bottom = p.top + p.height;
  const cy = p.top + p.height / 2 + 10;
  return (
    <g>
      <defs>
        <clipPath id={p.id}>
          <rect x={p.left} y={p.top} width={p.width} height={p.height} />
        </clipPath>
      </defs>
      <g clipPath={`url(#${p.id})`}>
        <line x1={p.left} x2={p.left + p.width} y1={y(0)} y2={y(0)} stroke="#8a8a8a" strokeWidth={1.1} strokeDasharray="5,4" />
        {p.points.map((d, i) => (
          <circle key={i} cx={x(d[0])} cy={y(d[1])} r={3.5} fill={PT_COLOR} fillOpacity={0.27} />
        ))}
        <path d={area(fit) || ""} fill="#bdbdbd" fillOpacity={0.75} />
        <path d={line(fit) || ""} fill="none" stroke="#000" strokeWidth={2.4} />
      </g>
      <rect x={p.left} y={p.top} width={p.width} height={p.height} fill="none" stroke="#000" strokeWidth={1.1} />
      {p.xTicks.map((t, i) => (
        <g key={t}>
          <line x1={x(t)} x2={x(t)} y1={bottom} y2={bottom + 4} stroke="#000" />
          <text x={x(t)} y={p.tickY} textAnchor="middle" fontSize={FS}>{p.xLabels[i]}</text>
        </g>
      ))}
      {p.yTicks.map((t, i) => (
        <g key={t}>
          <line x1={p.left - 4} x2={p.left} y1={y(t)} y2={y(t)} stroke="#000" />
          <text x={p.left - 7} y={y(t)} dy="0.35em" textAnchor="end" fontSize={FS}>{p.yLabels[i]}</text>
        </g>
      ))}
      <text x={p.left + p.width / 2} y={p.titleY} textAnchor="middle" fontSize={FS}>{p.xTitle}</text>
      <text transform={`translate(${p.left - 72},${cy}) rotate(-90)`} textAnchor="middle" fontSize={FS}>Influence on</text>
      <text transform={`translate(${p.left - 54},${cy}) rotate(-90)`} textAnchor="middle" fontSize={FS}>non-native presence</text>
    </g>
  );
}

export default function App() {
  const W = 209, H = 233;
  const cols = [564.5, 869.5, 1178];
  const rows = [9, 309];
  return (
    <svg width={1394} height={590} style={{ position: "absolute", left: 0, top: 0, background: "#fff" }}
      fontFamily={FONT} fill="#1a1a1a">
      <BarPanel cats={phyloCats} vals={phyloVals} letter="a" ylabel="Phylogenetic diversity"
        x0={271.5} xMaxVal={0.038} xRight={461.5} bandTop={13} bandBottom={245} axisTop={10} axisY={247}
        tickY={270} titleY={291} labelCenterY={123} letterY={26} />
      <BarPanel cats={funcCats} vals={funcVals} letter="b" ylabel="Functional diversity"
        x0={269.5} xMaxVal={0.0397} xRight={472} bandTop={306} bandBottom={540} axisTop={304} axisY={542}
        tickY={565} titleY={587} labelCenterY={415} letterY={322} />
      <Scatter id="c1" left={cols[0]} top={rows[0]} width={W} height={H} log xDomain={[1.6, 1150]} yDomain={[-0.0854, 0.0849]}
        xTicks={a1XTicks} xLabels={a1XLabels} yTicks={y05Ticks} yLabels={y05Labels} xTitle="Distance to ports (km)"
        points={a1Points} fitX={a1FitX} fitY={a1FitY} fitSe={a1FitSe} tickY={260} titleY={284} />
      <Scatter id="c2" left={cols[1]} top={rows[0]} width={W} height={H} log xDomain={[79.4, 7130]} yDomain={[-0.0995, 0.0989]}
        xTicks={a2XTicks} xLabels={a2XLabels} yTicks={y05Ticks} yLabels={y05Labels} xTitle="Native richness"
        points={a2Points} fitX={a2FitX} fitY={a2FitY} fitSe={a2FitSe} tickY={260} titleY={284} />
      <Scatter id="c3" left={cols[2]} top={rows[0]} width={W} height={H} log={false} xDomain={[0, 388]} yDomain={[-0.0742, 0.0738]}
        xTicks={a3XTicks} xLabels={a3XLabels} yTicks={y04Ticks} yLabels={y04Labels} xTitle="Native redundancy"
        points={a3Points} fitX={a3FitX} fitY={a3FitY} fitSe={a3FitSe} tickY={260} titleY={284} />
      <Scatter id="c4" left={cols[0]} top={rows[1]} width={W} height={H} log xDomain={[1.6, 1250]} yDomain={[-0.0641, 0.0645]}
        xTicks={b1XTicks} xLabels={b1XLabels} yTicks={y06Ticks} yLabels={y06Labels} xTitle="Distance to ports (km)"
        points={b1Points} fitX={b1FitX} fitY={b1FitY} fitSe={b1FitSe} tickY={566} titleY={586} />
      <Scatter id="c5" left={cols[1]} top={rows[1]} width={W} height={H} log xDomain={[1.66, 167]} yDomain={[-0.0688, 0.0688]}
        xTicks={b2XTicks} xLabels={b2XLabels} yTicks={y04Ticks} yLabels={y04Labels} xTitle="Native richness"
        points={b2Points} fitX={b2FitX} fitY={b2FitY} fitSe={b2FitSe} tickY={566} titleY={586} />
      <Scatter id="c6" left={cols[2]} top={rows[1]} width={W} height={H} log={false} xDomain={[0.83, 4.62]} yDomain={[-0.0688, 0.0688]}
        xTicks={b3XTicks} xLabels={b3XLabels} yTicks={y04Ticks} yLabels={y04Labels} xTitle="Native redundancy"
        points={b3Points} fitX={b3FitX} fitY={b3FitY} fitSe={b3FitSe} tickY={566} titleY={586} />
    </svg>
  );
}
